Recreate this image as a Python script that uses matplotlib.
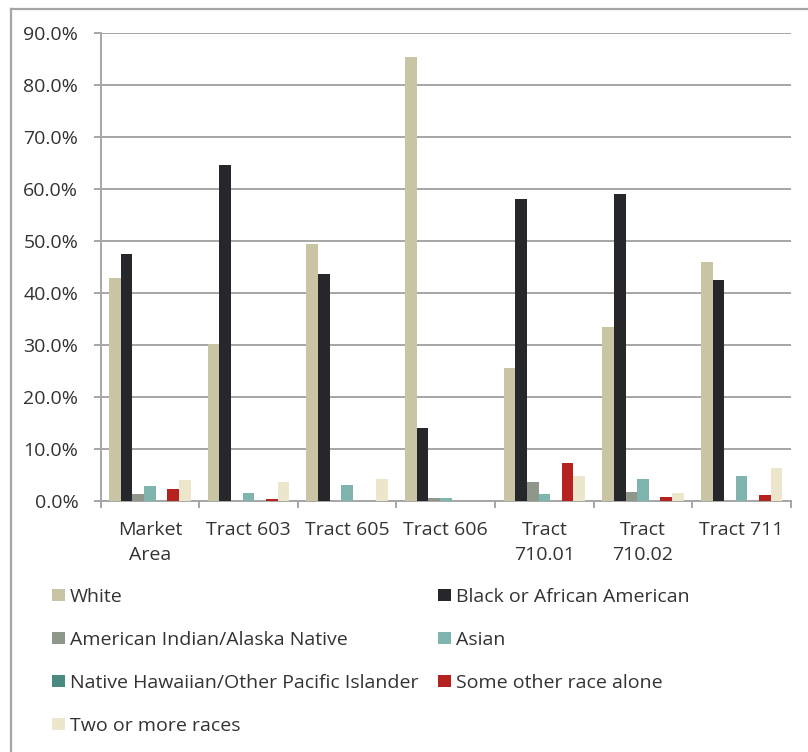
import numpy as np
import matplotlib.pyplot as plt
from matplotlib.lines import Line2D
from matplotlib.patches import Patch

plt.rcParams['font.family'] = ['Open Sans', 'DejaVu Sans']

areas = ["Market\nArea", "Tract 603", "Tract 605", "Tract 606",
         "Tract\n710.01", "Tract\n710.02", "Tract 711"]
races = ["White", "Black or African American", "American Indian/Alaska Native",
         "Asian", "Native Hawaiian/Other Pacific Islander",
         "Some other race alone", "Two or more races"]

white = [42.8, 30.2, 49.4, 85.3, 25.5, 33.4, 45.9]
black = [47.5, 64.6, 43.6, 14.0, 58.1, 59.0, 42.4]
am_indian = [1.2, 0.0, 0.0, 0.5, 3.5, 1.6, 0.0]
asian = [2.7, 1.4, 2.9, 0.4, 1.25, 4.1, 4.7]
hawaiian = [0.0, 0.0, 0.0, 0.0, 0.0, 0.0, 0.0]
other_race = [2.2, 0.3, 0.0, 0.0, 7.2, 0.6, 1.0]
two_plus = [3.9, 3.6, 4.1, 0.0, 4.7, 1.4, 6.3]

series = [white, black, am_indian, asian, hawaiian, other_race, two_plus]
colors = ["#c9c4a3", "#26272b", "#8e978a", "#7fb5ae", "#4a8a80", "#b5221f", "#ebe6cc"]

text_color = "#333333"
grid_color = "#a6a6a6"

fig = plt.figure(figsize=(8.08, 7.52), dpi=100)
ax = fig.add_axes([100.5 / 808, 1 - 500.5 / 752, 690.5 / 808, 467.5 / 752])

centers = np.arange(len(areas)) + 0.5
w = 0.118
for j, (vals, c) in enumerate(zip(series, colors)):
    ax.bar(centers + (j - 3) * w, vals, width=w, color=c, label=races[j], zorder=3)

ax.set_xlim(0, len(areas))
ax.set_ylim(0, 90)
ax.set_yticks(np.arange(0, 91, 10))
ax.set_yticklabels([f"{v:.1f}%" for v in np.arange(0, 91, 10)])
ax.yaxis.grid(True, color=grid_color, linewidth=1.4, zorder=0)

ax.set_xticks(np.arange(0, len(areas) + 1))
ax.set_xticklabels([])
ax.set_xticks(centers, minor=True)
ax.set_xticklabels(areas, minor=True, linespacing=1.5)
ax.tick_params(axis="x", which="major", length=5, color=grid_color, width=1.4)
ax.tick_params(axis="x", which="minor", length=0, pad=15, labelsize=14, labelcolor=text_color)
ax.tick_params(axis="y", length=5, color=grid_color, width=1.4, pad=11,
               labelsize=14, labelcolor=text_color)

for side in ["top", "right"]:
    ax.spines[side].set_visible(False)
for side in ["left", "bottom"]:
    ax.spines[side].set_color(grid_color)
    ax.spines[side].set_linewidth(1.4)

# legend filled column by column, so order handles to read row-wise
order = [0, 2, 4, 6, 1, 3, 5]
handles = [Patch(facecolor=colors[i], edgecolor="none") for i in order]
labels = [races[i] for i in order]
fig.legend(handles, labels, loc="upper left", bbox_to_anchor=(52 / 808, 1 - 588 / 752),
           ncol=2, frameon=False, fontsize=14, labelcolor=text_color,
           handlelength=0.67, handleheight=0.62, handletextpad=0.26,
           labelspacing=1.28, columnspacing=1.0, borderpad=0, borderaxespad=0)

# outer frame
fig.add_artist(Line2D([10.5 / 808, 10.5 / 808], [0, 1 - 8.5 / 752], color=grid_color,
                      linewidth=1.6, transform=fig.transFigure))
fig.add_artist(Line2D([10.5 / 808, 1], [1 - 8.5 / 752, 1 - 8.5 / 752], color=grid_color,
                      linewidth=1.6, transform=fig.transFigure))

fig.savefig("out.png", dpi=100)
